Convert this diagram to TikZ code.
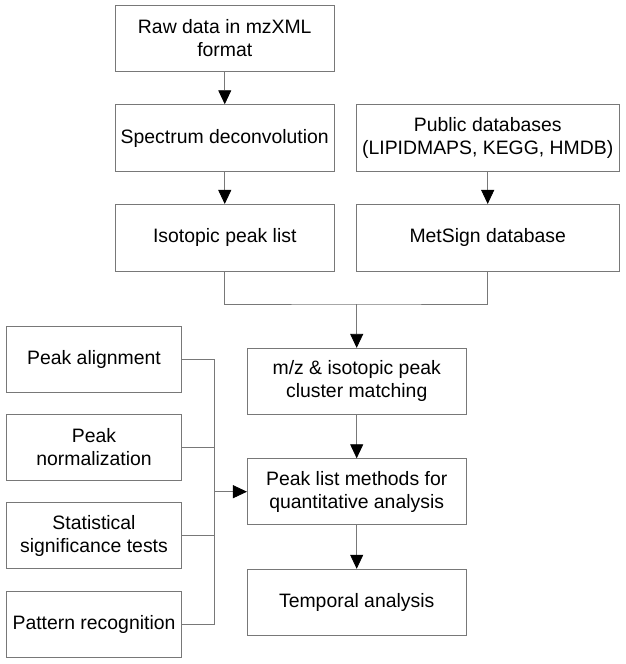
\documentclass[tikz,border=0pt]{standalone}
\usepackage{fontspec}
\setmainfont{Liberation Sans}
\usetikzlibrary{arrows.meta}
\definecolor{linegray}{RGB}{120,120,120}
\begin{document}
\begin{tikzpicture}[x=1pt,y=-1pt,
  box/.style={draw=linegray, line width=0.8pt, rectangle, align=center, inner sep=0pt,
    font=\fontsize{19.4}{23}\selectfont, text=black},
  colA/.style={box, minimum width=218.5pt, minimum height=66.7pt},
  colB/.style={box, minimum width=263.3pt, minimum height=66.7pt},
  colM/.style={box, minimum width=218.7pt, minimum height=66pt},
  colL/.style={box, minimum width=175.4pt, minimum height=66pt},
  conn/.style={draw=linegray, line width=0.8pt},
  arr/.style={conn, -{Triangle[width=13pt,length=14pt,fill=black,color=black]}}]
\useasboundingbox (0,0) rectangle (626,664);
\node[colA] (raw) at (224.75,38.3) {Raw data in mzXML\\format};
\node[colA] (spec) at (224.75,138) {Spectrum deconvolution};
\node[colA] (iso) at (224.75,237.7) {Isotopic peak list};
\node[colB] (pub) at (487.7,138) {Public databases\\(LIPIDMAPS, KEGG, HMDB)};
\node[colB] (met) at (487.7,237.7) {MetSign database};
\node[colM] (mz) at (356.7,381.3) {m/z \& isotopic peak\\cluster matching};
\node[colM] (pl) at (356.7,491.7) {Peak list methods for\\quantitative analysis};
\node[colM] (temp) at (356.7,602.2) {Temporal analysis};
\node[colL] (l1) at (94,359.3) {Peak alignment};
\node[colL] (l2) at (94,447.5) {Peak\\normalization};
\node[colL] (l3) at (94,535.8) {Statistical\\significance tests};
\node[colL] (l4) at (94,624.3) {Pattern recognition};
\coordinate (j) at (356.7,304);
\coordinate (btop) at (214,359.3);
\coordinate (bbot) at (214,624.3);
\coordinate (bmid) at (214,491.7);
\draw[arr] (raw) -- (spec);
\draw[arr] (spec) -- (iso);
\draw[arr] (pub) -- (met);
\draw[conn] (iso.south) |- (j) -| (met.south);
\draw[arr] (j) -- (mz.north);
\draw[arr] (mz) -- (pl);
\draw[arr] (pl) -- (temp);
\draw[conn] (l1.east) -- (btop) -- (bbot) -- (l4.east);
\draw[conn] (l2.east) -- (l2.east -| btop);
\draw[conn] (l3.east) -- (l3.east -| btop);
\draw[arr] (bmid) -- (pl.west);
\end{tikzpicture}
\end{document}
